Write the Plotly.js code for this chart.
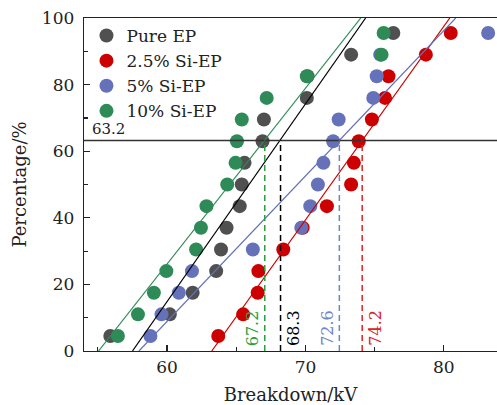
<!DOCTYPE html>
<html>
<head>
<meta charset="utf-8">
<script src="https://cdn.plot.ly/plotly-3.0.1.min.js"></script>
<style>
html,body{margin:0;padding:0;background:#fff;overflow:hidden;}
#chart{width:497px;height:405px;}
</style>
</head>
<body>
<div id="chart"></div>
<script>
// ---- data ----
const seriesNames = ['Pure EP', '2.5% Si-EP', '5% Si-EP', '10% Si-EP'];
const percentage = [4.5, 11.0, 17.5, 24.0, 30.5, 37.0, 43.5, 50.0, 56.5, 63.0, 69.5, 76.0, 82.5, 89.0, 95.5];
const pureEP = [55.9, 60.2, 61.85, 63.55, 63.9, 64.3, 65.25, 65.4, 65.6, 66.9, 67.0, 70.1, 70.15, 73.3, 76.35];
const si25EP = [63.7, 65.5, 66.55, 66.6, 68.4, 69.8, 71.55, 73.3, 73.5, 73.85, 74.8, 75.75, 76.0, 78.7, 80.5];
const si5EP  = [58.8, 59.6, 60.85, 61.8, 66.2, 69.7, 70.35, 70.9, 71.3, 72.0, 72.4, 74.9, 75.15, 75.4, 83.2];
const si10EP = [56.45, 57.9, 59.05, 59.95, 62.1, 62.45, 62.85, 64.35, 64.95, 65.05, 65.4, 67.2, 70.1, 75.5, 75.65];
// fitted lines: breakdown value where each line meets 0% and 100%
const fitAt0   = [57.5, 63.23, 57.97, 55.05];
const fitAt100 = [74.35, 80.43, 80.86, 74.0];
const fitPct = [0, 100];
// characteristic breakdown (63.2%) markers
const refLevel = 63.2;
const etaPos = [68.2, 74.1, 72.45, 67.06];
const etaLabels = ['68.3', '74.2', '72.6', '67.2'];
const refLabel = '63.2';

// ---- styles ----
const markerColors = ['#505050', '#cc0000', '#6571b8', '#2e8b57'];
const lineColors   = ['#000000', '#cc0000', '#6571b8', '#2e8b57'];
const dashColors   = ['#000000', '#dd2222', '#7383c8', '#28a040'];
const labelSide    = ['right', 'right', 'left', 'left'];
const FONT = 'DejaVu Serif, serif';
const series = [pureEP, si25EP, si5EP, si10EP];

const traces = [];
series.forEach((xs, i) => {
  traces.push({
    type: 'scatter', mode: 'markers', name: seriesNames[i],
    x: xs, y: percentage,
    marker: {color: markerColors[i], size: 14, line: {width: 0}},
    cliponaxis: true
  });
});
series.forEach((xs, i) => {
  traces.push({
    type: 'scatter', mode: 'lines', showlegend: false, hoverinfo: 'skip',
    x: [fitAt0[i], fitAt100[i]], y: fitPct,
    line: {color: lineColors[i], width: 1.2}
  });
});
// horizontal 63.2 line
traces.push({
  type: 'scatter', mode: 'lines', showlegend: false, hoverinfo: 'skip',
  x: [54, 90], y: [refLevel, refLevel],
  line: {color: '#333333', width: 1.5}
});
// vertical dashed lines
etaPos.forEach((e, i) => {
  traces.push({
    type: 'scatter', mode: 'lines', showlegend: false, hoverinfo: 'skip',
    x: [e, e], y: [0, refLevel],
    line: {color: dashColors[i], width: 1.5, dash: '6px,4px'}
  });
});

const annotations = etaPos.map((e, i) => ({
  x: e, y: 0, xref: 'x', yref: 'y',
  text: etaLabels[i], showarrow: false, textangle: -90,
  xanchor: labelSide[i] === 'right' ? 'left' : 'right',
  yanchor: 'bottom',
  xshift: labelSide[i] === 'right' ? 1 : -1, yshift: 3,
  font: {family: FONT, size: 16, color: dashColors[i]}
}));
annotations.push({
  x: 0, xref: 'paper', y: refLevel, yref: 'y',
  text: refLabel, showarrow: false,
  xanchor: 'left', yanchor: 'bottom', xshift: 6, yshift: 1,
  font: {family: FONT, size: 15, color: '#222'}
});

const axisCommon = {
  showline: true, linecolor: '#222', linewidth: 1.3,
  ticks: 'inside', ticklen: 6, tickwidth: 1.2, tickcolor: '#222',
  showgrid: false, zeroline: false,
  tickfont: {family: FONT, size: 17, color: '#222'}
};

const layout = {
  width: 497, height: 405,
  margin: {l: 84, r: 0, t: 18, b: 54},
  paper_bgcolor: '#fff', plot_bgcolor: '#fff',
  showlegend: true,
  legend: {
    x: 0.006, y: 1, xanchor: 'left', yanchor: 'top',
    bgcolor: 'rgba(0,0,0,0)', borderwidth: 0,
    font: {family: FONT, size: 17, color: '#222'},
    tracegroupgap: 0
  },
  xaxis: Object.assign({}, axisCommon, {
    range: [54, 83.84], dtick: 10, tick0: 0, mirror: true,
    minor: {dtick: 5, ticks: 'inside', ticklen: 4, tickcolor: '#222', showgrid: false},
    title: {text: 'Breakdown/kV', font: {family: FONT, size: 18, color: '#222'}, standoff: 12}
  }),
  yaxis: Object.assign({}, axisCommon, {
    range: [0, 100], dtick: 20, tick0: 0,
    ticklabelstandoff: 5,
    minor: {dtick: 10, ticks: 'inside', ticklen: 4, tickcolor: '#222', showgrid: false},
    title: {text: 'Percentage/%', font: {family: FONT, size: 18, color: '#222'}, standoff: 10}
  }),
  annotations: annotations
};

Plotly.newPlot('chart', traces, layout, {displayModeBar: false, staticPlot: true});
</script>
</body>
</html>
